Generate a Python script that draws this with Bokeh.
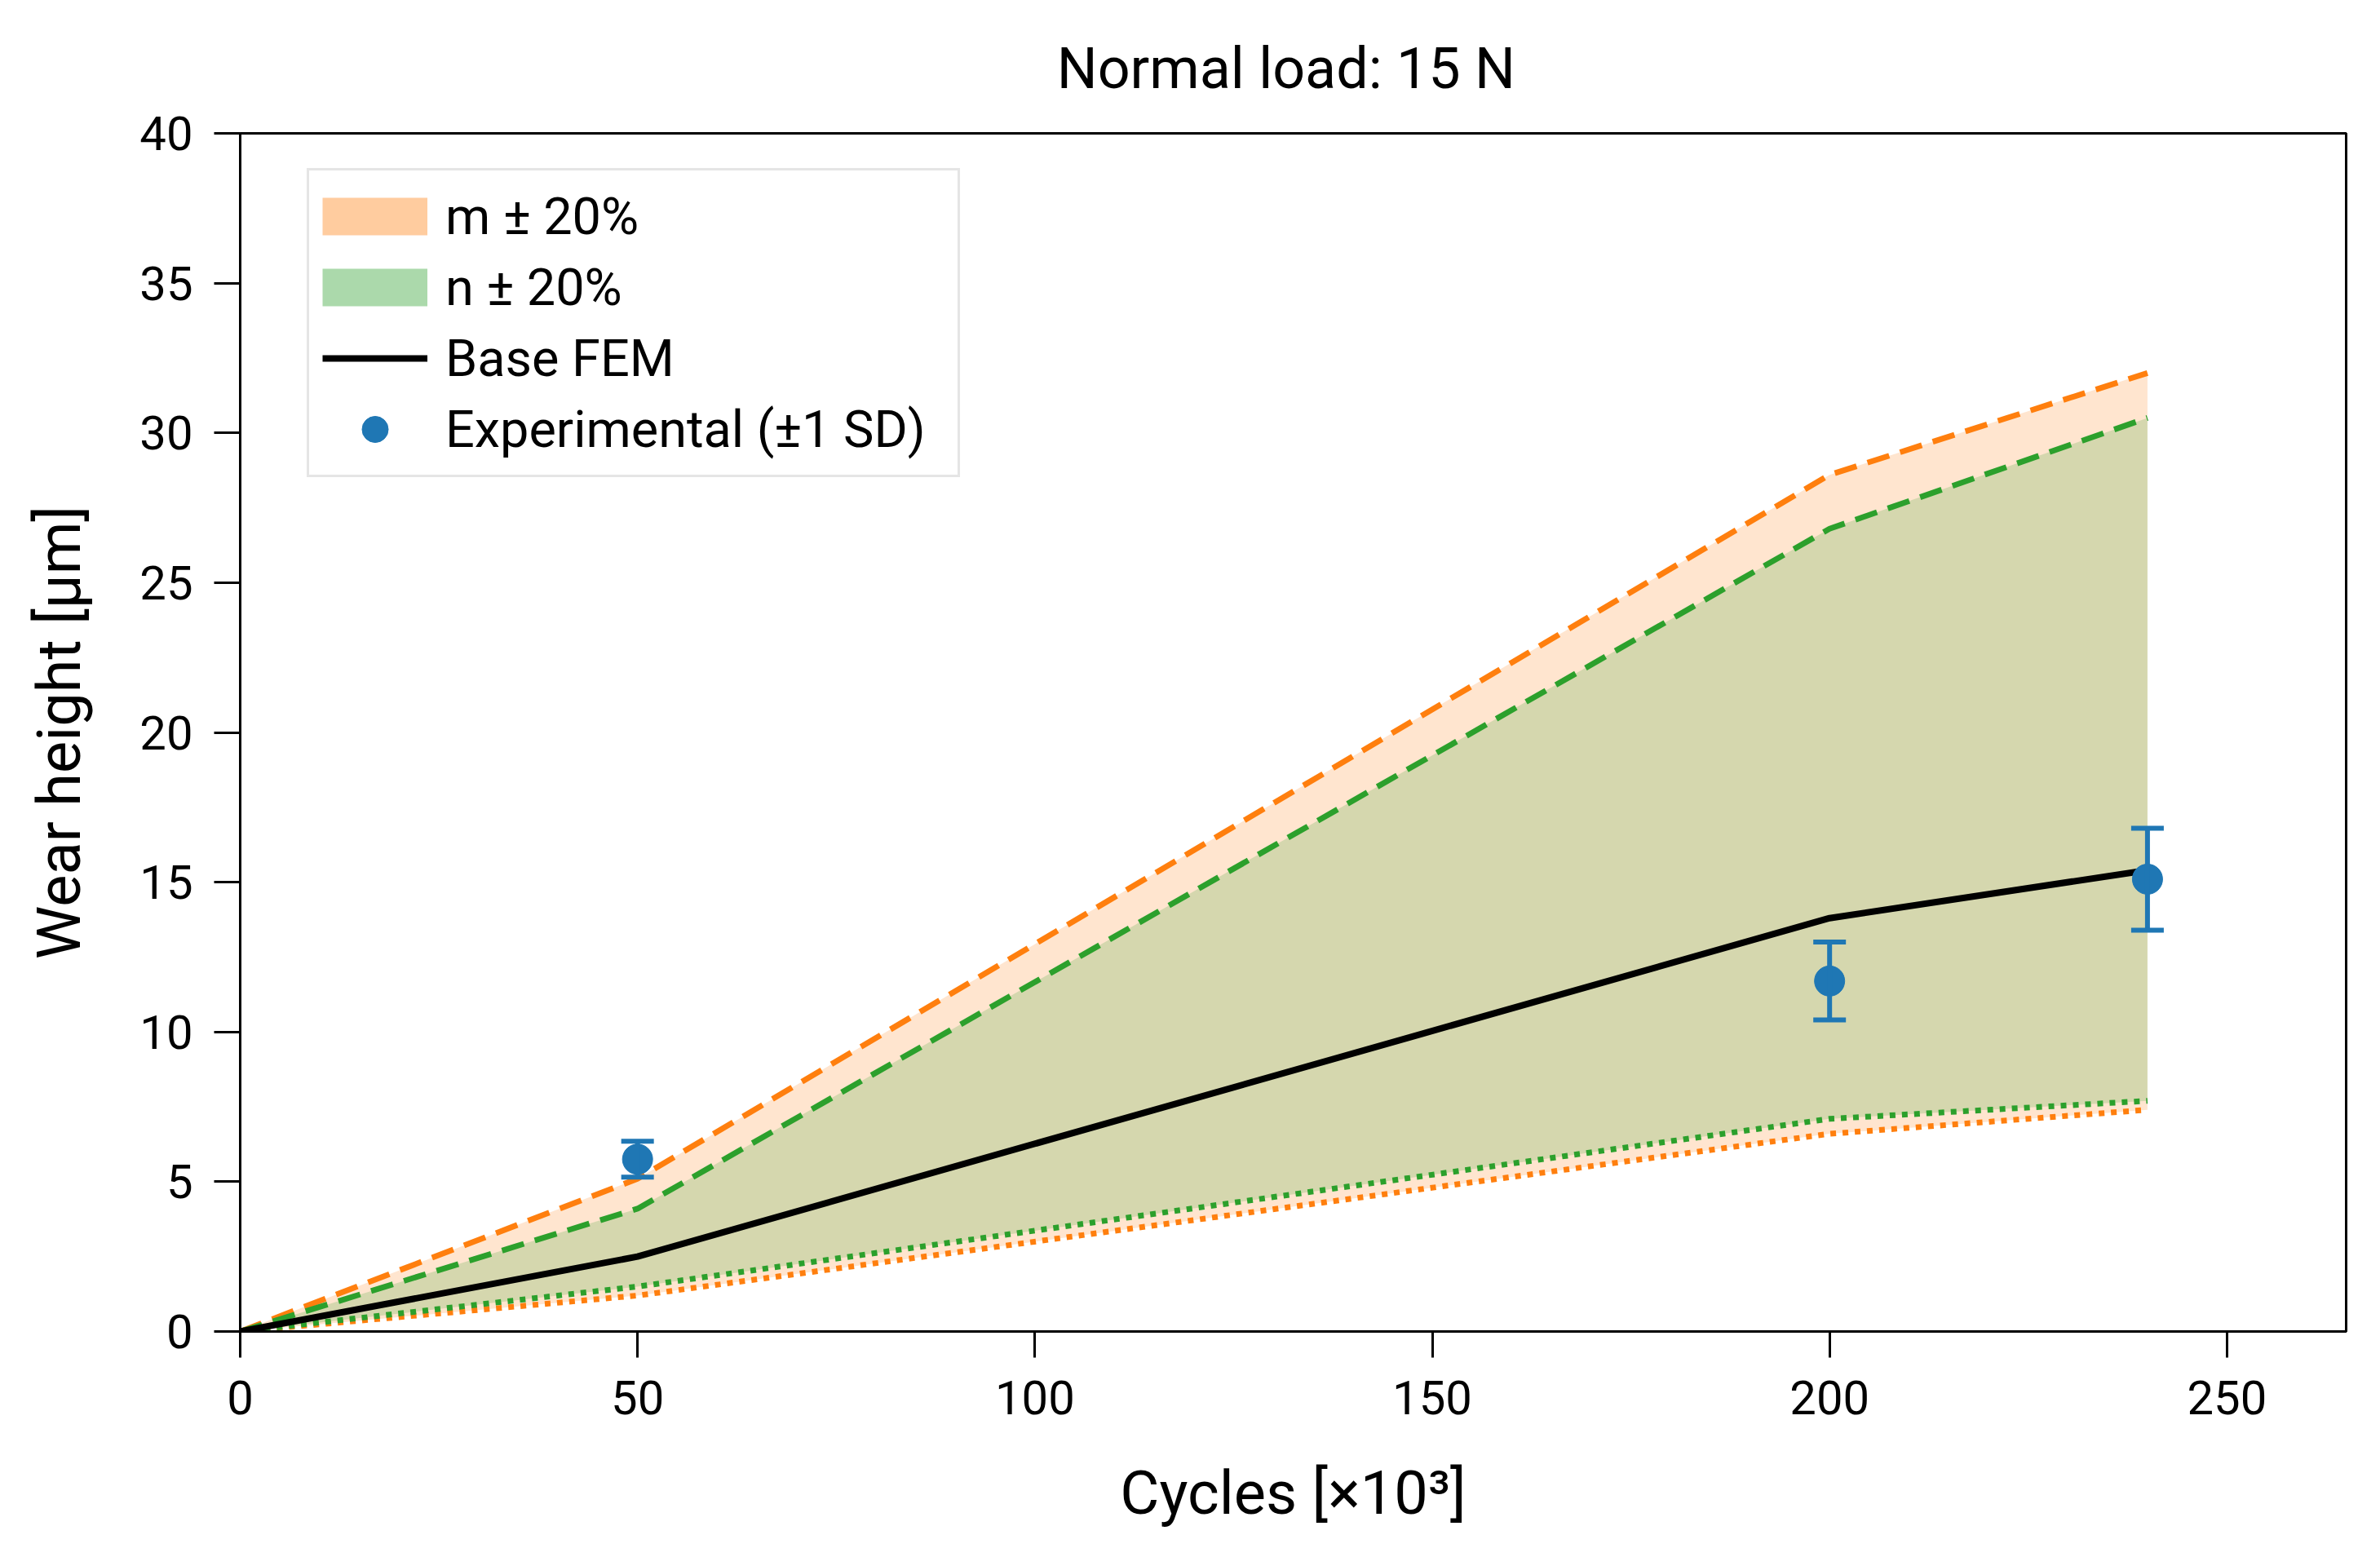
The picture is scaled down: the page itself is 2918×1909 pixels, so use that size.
from bokeh.plotting import figure
from bokeh.models import Range1d, Legend, LegendItem, Whisker, TeeHead, ColumnDataSource, FixedTicker
from bokeh.embed import file_html
from bokeh.resources import INLINE

# ---- data ----
cycles = [0, 50, 200, 240]
base_fem = [0.0, 2.5, 13.8, 15.4]
m_upper = [0.0, 5.1, 28.6, 32.0]
m_lower = [0.0, 1.2, 6.6, 7.4]
n_upper = [0.0, 4.1, 26.8, 30.5]
n_lower = [0.0, 1.5, 7.1, 7.7]
exp_cycles = [50, 200, 240]
exp_mean = [5.75, 11.7, 15.1]
exp_sd = [0.6, 1.3, 1.7]
x_ticks = [0, 50, 100, 150, 200, 250]
y_ticks = [0, 5, 10, 15, 20, 25, 30, 35, 40]
title_text = "Normal load:  15 N"

ORANGE = "#ff7f0e"
GREEN = "#2ca02c"
BLUE = "#1f77b4"
FONT = "Roboto"
NAN = float("nan")

p = figure(width=2900, height=1890, output_backend="svg", toolbar_location=None,
           x_range=Range1d(0, 265), y_range=Range1d(0, 40),
           min_border_left=294, min_border_right=24, min_border_top=163, min_border_bottom=258)

p.title.text = title_text
p.title.align = "center"
p.title.vertical_align = "top"
p.title.text_font = FONT
p.title.text_font_size = "70px"
p.title.text_font_style = "normal"
p.title.text_color = "black"
p.title.standoff = 74

p.xgrid.visible = False
p.ygrid.visible = False
p.outline_line_color = "black"
p.outline_line_width = 3
p.background_fill_color = "white"

for ax in (p.xaxis[0], p.yaxis[0]):
    ax.axis_line_width = 3
    ax.major_tick_line_width = 3
    ax.major_tick_out = 32
    ax.major_tick_in = 0
    ax.minor_tick_line_color = None
    ax.major_label_text_font = FONT
    ax.major_label_text_font_size = "58px"
    ax.major_label_text_color = "black"
    ax.axis_label_text_font = FONT
    ax.axis_label_text_font_size = "74px"
    ax.axis_label_text_font_style = "normal"
    ax.axis_label_text_color = "black"

p.xaxis.ticker = FixedTicker(ticks=x_ticks)
p.yaxis.ticker = FixedTicker(ticks=y_ticks)
p.xaxis.axis_label = "Cycles [×10³]"
p.yaxis.axis_label = "Wear height [μm]"
p.xaxis.major_label_standoff = 28
p.yaxis.major_label_standoff = 26
p.xaxis.axis_label_standoff = 50
p.yaxis.axis_label_standoff = 52

# bands
p.varea(x=cycles, y1=m_lower, y2=m_upper, fill_color=ORANGE, fill_alpha=0.2)
p.varea(x=cycles, y1=n_lower, y2=n_upper, fill_color=GREEN, fill_alpha=0.2)

# band edges
p.line(cycles, m_upper, line_color=ORANGE, line_width=7, line_dash="28 14")
p.line(cycles, m_lower, line_color=ORANGE, line_width=7, line_dash="7 8")
p.line(cycles, n_upper, line_color=GREEN, line_width=7, line_dash="28 14")
p.line(cycles, n_lower, line_color=GREEN, line_width=7, line_dash="7 8")

base_r = p.line(cycles, base_fem, line_color="black", line_width=8)

# experimental with error bars
src = ColumnDataSource(dict(x=exp_cycles, y=exp_mean,
                            up=[m + s for m, s in zip(exp_mean, exp_sd)],
                            lo=[m - s for m, s in zip(exp_mean, exp_sd)]))
wh = Whisker(source=src, base="x", upper="up", lower="lo", line_color=BLUE, line_width=6,
             upper_head=TeeHead(size=40, line_color=BLUE, line_width=6),
             lower_head=TeeHead(size=40, line_color=BLUE, line_width=6))
wh.level = "overlay"
p.add_layout(wh)
exp_r = p.scatter("x", "y", source=src, size=37, fill_color=BLUE, line_color=BLUE)

# legend proxies (not drawn in the plot area)
m_proxy = p.line(x=[NAN], y=[NAN], line_color=ORANGE, line_alpha=0.4, line_width=46)
n_proxy = p.line(x=[NAN], y=[NAN], line_color=GREEN, line_alpha=0.4, line_width=46)
exp_proxy = p.scatter(x=[NAN], y=[NAN], fill_color=BLUE, line_color=BLUE)

legend = Legend(items=[
    LegendItem(label="m ± 20%", renderers=[m_proxy]),
    LegendItem(label="n ± 20%", renderers=[n_proxy]),
    LegendItem(label="Base FEM", renderers=[base_r]),
    LegendItem(label="Experimental (±1 SD)", renderers=[exp_proxy]),
], location=(82, 1047))
legend.label_text_font = FONT
legend.label_text_font_size = "63px"
legend.label_text_color = "black"
legend.glyph_width = 129
legend.glyph_height = 80
legend.label_height = 56
legend.label_width = 612
legend.spacing = 7
legend.padding = 16
legend.label_standoff = 22
legend.border_line_color = "#cccccc"
legend.border_line_width = 3
legend.background_fill_alpha = 0.8
legend.margin = 0
p.add_layout(legend, "center")

open("out.html", "w").write(file_html(p, INLINE))
